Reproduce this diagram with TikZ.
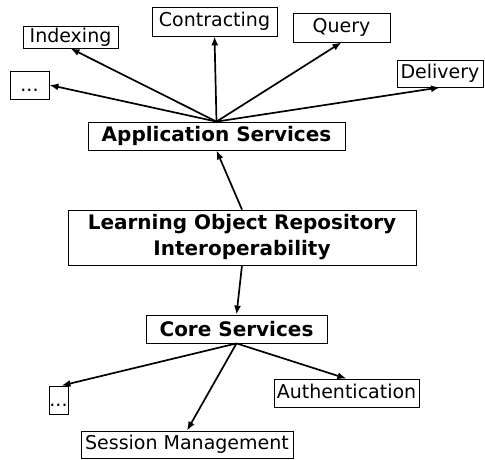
\documentclass[tikz,border=0pt]{standalone}
\usepackage{fontspec}
\setmainfont{DejaVu Sans}
\usetikzlibrary{arrows.meta}
\begin{document}
\begin{tikzpicture}[x=1pt,y=-1pt,
  box/.style={draw=black, line width=0.8pt, inner sep=0pt, text height=14pt, text depth=4pt, font=\fontsize{19}{22}\selectfont},
  dotbox/.style={box, text depth=1pt},
  bbox/.style={draw=black, line width=0.8pt, inner sep=0pt, font=\fontsize{20}{26}\selectfont\bfseries, align=center},
  arr/.style={-{Latex[length=9pt,width=7pt]}, line width=1.7pt}]
\useasboundingbox (0,0) rectangle (485,459);
% top level
\node[dotbox, minimum width=39pt, minimum height=28pt] (dt) at (29.5,85) {...};
\node[box, minimum width=95pt, minimum height=22pt] (idx) at (70.5,37) {Indexing};
\node[box, minimum width=125pt, minimum height=29pt] (con) at (214.5,21.5) {Contracting};
\node[box, minimum width=97pt, minimum height=29pt] (qry) at (341.5,27.5) {Query};
\node[box, minimum width=86pt, minimum height=27pt] (del) at (440,73.5) {Delivery};
\node[bbox, minimum width=257pt, minimum height=28pt] (app) at (216.5,136) {Application Services};
% middle
\node[bbox, minimum width=348pt, minimum height=55pt] (lor) at (242,237.5) {Learning Object Repository\\Interoperability};
% bottom
\node[bbox, minimum width=181pt, minimum height=28pt] (core) at (236.5,329) {Core Services};
\node[dotbox, minimum width=19pt, minimum height=28pt] (db) at (58.5,400) {...};
\node[box, minimum width=145pt, minimum height=28pt] (auth) at (346.5,393) {Authentication};
\node[box, minimum width=212pt, minimum height=27pt] (ses) at (187,444.5) {Session Management};
% connectors
\draw[arr] (app.north) -- (dt.east);
\draw[arr] (app.north) -- (idx.south);
\draw[arr] (app.north) -- (con.south);
\draw[arr] (app.north) -- (qry.south);
\draw[arr] (app.north) -- (del.south);
\draw[arr] (lor.north) -- (app.south);
\draw[arr] (lor.south) -- (core.north);
\draw[arr] (core.south) -- ([xshift=3pt]db.north);
\draw[arr] (core.south) -- (ses.north);
\draw[arr] (core.south) -- (auth.north);
\end{tikzpicture}
\end{document}
